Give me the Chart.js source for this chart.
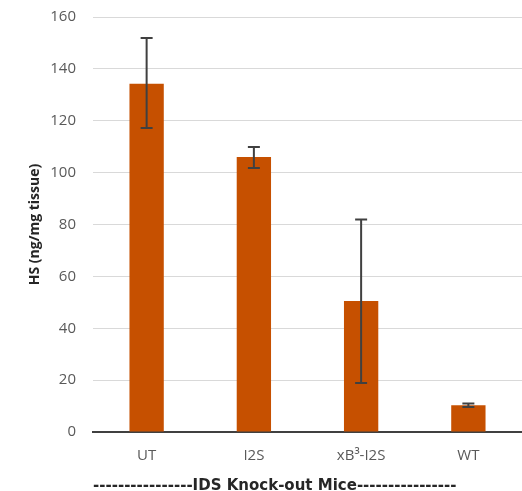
<!DOCTYPE html>
<html>
<head>
<meta charset="utf-8">
<script src="https://cdn.jsdelivr.net/npm/chart.js@4.4.1/dist/chart.umd.min.js"></script>
<style>
  html, body { margin: 0; padding: 0; background: #fff; }
  #wrap { width: 522px; height: 491px; }
</style>
</head>
<body>
<div id="wrap"><canvas id="hsChart"></canvas></div>
<script>
  // groups and measured HS levels
  const groups = ["UT", "I2S", "xB³-I2S", "WT"];
  const hsMean = [134.3, 106.0, 50.5, 10.3];
  const hsUpper = [151.9, 109.9, 81.9, 11.0];
  const hsLower = [117.2, 101.8, 18.9, 9.6];
  const yTicks = [0, 20, 40, 60, 80, 100, 120, 140, 160];

  const FONT = "'Open Sans', 'Noto Sans', sans-serif";

  // whiskers drawn on top of the bars
  const errorBars = {
    id: "errorBars",
    afterDatasetsDraw(chart) {
      const ctx = chart.ctx;
      const y = chart.scales.y;
      const meta = chart.getDatasetMeta(0);
      ctx.save();
      ctx.strokeStyle = "#404040";
      ctx.lineWidth = 2;
      meta.data.forEach((bar, i) => {
        const top = y.getPixelForValue(hsUpper[i]);
        const bot = y.getPixelForValue(hsLower[i]);
        const cap = 6;
        ctx.beginPath();
        ctx.moveTo(bar.x, top);
        ctx.lineTo(bar.x, bot);
        ctx.moveTo(bar.x - cap, top);
        ctx.lineTo(bar.x + cap, top);
        ctx.moveTo(bar.x - cap, bot);
        ctx.lineTo(bar.x + cap, bot);
        ctx.stroke();
      });
      ctx.restore();
    },
  };

  new Chart(document.querySelector("#hsChart"), {
    type: "bar",
    data: {
      labels: groups,
      datasets: [
        {
          label: "HS",
          data: hsMean,
          backgroundColor: "#c65000",
          borderWidth: 0,
          categoryPercentage: 1,
          barPercentage: 0.32,
        },
      ],
    },
    options: {
      responsive: true,
      maintainAspectRatio: false,
      animation: false,
      layout: { padding: { top: 17, right: 0, bottom: 0, left: 27 } },
      plugins: {
        legend: { display: false },
        tooltip: { enabled: false },
      },
      scales: {
        x: {
          afterFit(scale) {
            scale.height = 59;
          },
          grid: { display: false, drawTicks: false },
          border: { display: true, color: "#404040", width: 2 },
          ticks: {
            color: "#595959",
            font: { family: FONT, size: 15 },
            padding: 15,
          },
          title: {
            display: true,
            align: "start",
            text: "----------------IDS Knock-out Mice----------------",
            color: "#262626",
            font: { family: "'DejaVu Sans', sans-serif", size: 15, weight: "bold" },
            padding: { top: 0, bottom: -4 },
          },
        },
        y: {
          min: 0,
          max: 160,
          afterBuildTicks(axis) {
            axis.ticks = yTicks.map((v) => ({ value: v }));
          },
          afterFit(scale) {
            scale.width = 66;
            scale.paddingTop = 0;
            scale.paddingBottom = 0;
          },
          grid: { color: "#d9d9d9", lineWidth: 1, drawTicks: false },
          border: { display: false },
          ticks: {
            color: "#595959",
            font: { family: FONT, size: 15 },
            padding: 17,
          },
          title: {
            display: true,
            text: "HS (ng/mg tissue)",
            color: "#262626",
            font: { family: FONT, size: 14, weight: "bold" },
            padding: 0,
          },
        },
      },
    },
    plugins: [errorBars],
  });
</script>
</body>
</html>
